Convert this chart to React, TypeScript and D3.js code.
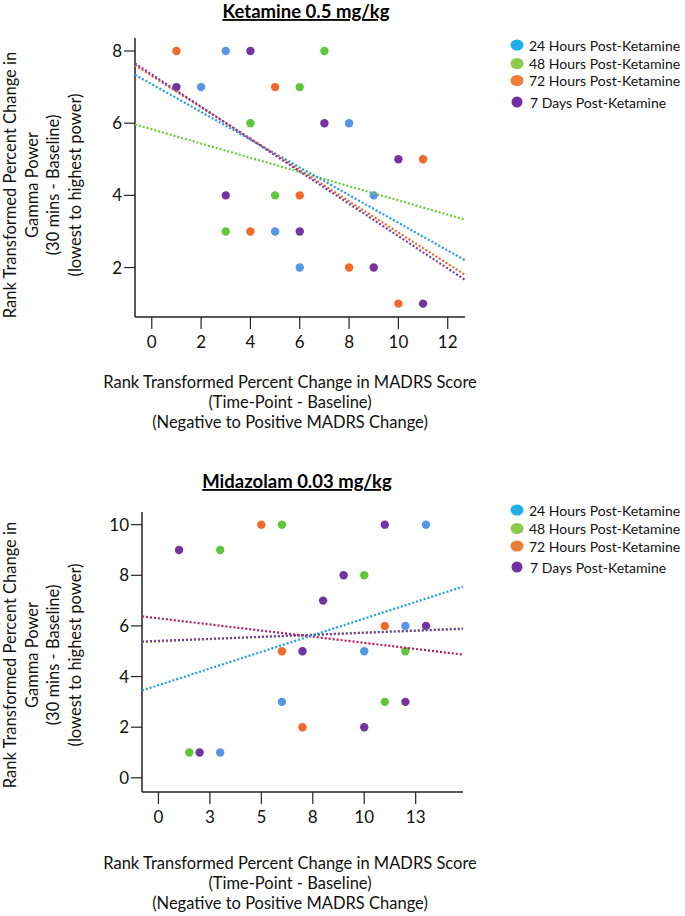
import React from "react";
import * as d3 from "d3";

const seriesNames = ["24 Hours Post-Ketamine", "48 Hours Post-Ketamine", "72 Hours Post-Ketamine", "7 Days Post-Ketamine"];
const dotColors = ["#5596E6", "#5FC73C", "#F26A2A", "#7433A0"];
const legendColors = ["#1FAEEA", "#8CCB4E", "#EE7D35", "#7030A0"];

// Ketamine panel points [x, y] per series
const ketX24 = [3, 2, 8, 9, 5, 6];
const ketY24 = [8, 7, 6, 4, 3, 2];
const ketX48 = [7, 6, 4, 5, 3];
const ketY48 = [8, 7, 6, 4, 3];
const ketX72 = [1, 5, 4, 6, 8, 10, 11];
const ketY72 = [8, 7, 3, 4, 2, 1, 5];
const ketX7d = [4, 1, 7, 10, 3, 6, 9, 11];
const ketY7d = [8, 7, 6, 5, 4, 3, 2, 1];
const ketTrendIntercept = [7.08, 5.83, 7.31, 7.35];
const ketTrendSlope = [-0.384, -0.197, -0.434, -0.448];
const ketTrendColors = ["#1E9CEB", "#6CC93A", "#F0642A", "#7A3BA6"];
const ketXTicks = [0, 2, 4, 6, 8, 10, 12];
const ketXTickLabels = ["0", "2", "4", "6", "8", "10", "12"];
const ketYTicks = [2, 4, 6, 8];

// Midazolam panel
const midX24 = [13, 12, 10, 6, 3];
const midY24 = [10, 6, 5, 3, 1];
const midX48 = [3, 6, 10, 12, 11, 1.5];
const midY48 = [9, 10, 8, 5, 3, 1];
const midX72 = [5, 11, 6, 7];
const midY72 = [10, 6, 5, 2];
const midX7d = [1, 11, 9, 8, 13, 7, 12, 10, 2];
const midY7d = [9, 10, 8, 7, 6, 5, 3, 2, 1];
const midTrendIntercept = [3.66, 5.39, 6.30, 5.41];
const midTrendSlope = [0.263, 0.0346, -0.0968, 0.032];
const midTrendColors = ["#1E9CEB", "#6CC93A", "#B21E5C", "#7A3BA6"];
const midXTicks = [0, 2.5, 5, 7.5, 10, 12.5];
const midXTickLabels = ["0", "3", "5", "8", "10", "13"];
const midYTicks = [0, 2, 4, 6, 8, 10];

const FONT = "Lato, 'Open Sans', sans-serif";

type PanelProps = {
  title: string;
  titleY: number;
  titleX: number;
  xs: number[][];
  ys: number[][];
  trendI: number[];
  trendS: number[];
  trendColors: string[];
  trendOrder: number[];
  xDomain: [number, number];
  yDomain: [number, number];
  left: number;
  right: number;
  top: number;
  bottom: number;
  xTicks: number[];
  xTickLabels: string[];
  yTicks: number[];
  yLabelCenter: number;
  xLabelY: number;
  legendY: number[];
};

const yLabelLines = [
  "Rank Transformed Percent Change in",
  "Gamma Power",
  "(30 mins - Baseline)",
  "(lowest to highest power)",
];
const xLabelLines = [
  "Rank Transformed Percent Change in MADRS Score",
  "(Time-Point - Baseline)",
  "(Negative to Positive MADRS Change)",
];

function Panel(p: PanelProps) {
  const x = d3.scaleLinear().domain(p.xDomain).range([p.left, p.right]);
  const y = d3.scaleLinear().domain(p.yDomain).range([p.bottom, p.top]);
  const lineX = [p.xDomain[0], p.xDomain[1]];
  return (
    <g>
      <text
        x={p.titleX}
        y={p.titleY}
        textAnchor="middle"
        fontFamily={FONT}
        fontWeight="bold"
        fontSize={18.5}
        textDecoration="underline"
        fill="#000"
      >
        {p.title}
      </text>
      <line x1={p.left} x2={p.left} y1={p.top} y2={p.bottom} stroke="#222" strokeWidth={1.5} />
      <line x1={p.left} x2={p.right} y1={p.bottom} y2={p.bottom} stroke="#222" strokeWidth={1.5} />
      {p.yTicks.map((t) => (
        <g key={"y" + t}>
          <line x1={p.left - 11} x2={p.left} y1={y(t)} y2={y(t)} stroke="#222" strokeWidth={1.2} />
          <text x={p.left - 13} y={y(t)} dy="0.35em" textAnchor="end" fontFamily={FONT} fontSize={17} fill="#111">
            {t}
          </text>
        </g>
      ))}
      {p.xTicks.map((t, i) => (
        <g key={"x" + t}>
          <line x1={x(t)} x2={x(t)} y1={p.bottom} y2={p.bottom + 12} stroke="#222" strokeWidth={1.2} />
          <text x={x(t)} y={p.bottom + 25} dy="0.35em" textAnchor="middle" fontFamily={FONT} fontSize={17} fill="#111">
            {p.xTickLabels[i]}
          </text>
        </g>
      ))}
      {p.xs.map((arr, s) =>
        arr.map((xv, i) => (
          <circle key={s + "-" + i} cx={x(xv)} cy={y(p.ys[s][i])} r={4.2} fill={dotColors[s]} />
        ))
      )}
      {p.trendOrder.map((s) => {
        const path = d3
          .line<number>()
          .x((v) => x(v))
          .y((v) => y(p.trendI[s] + p.trendS[s] * v))(lineX);
        return (
          <path
            key={"t" + s}
            d={path || ""}
            fill="none"
            stroke={p.trendColors[s]}
            strokeWidth={2.2}
            strokeDasharray="2,2"
          />
        );
      })}
      {yLabelLines.map((l, i) => (
        <text
          key={"yl" + i}
          transform={`translate(${10 + i * 21.5},${p.yLabelCenter}) rotate(-90)`}
          textAnchor="middle"
          dominantBaseline="central"
          fontFamily={FONT}
          fontSize={16.5}
          fill="#111"
        >
          {l}
        </text>
      ))}
      {xLabelLines.map((l, i) => (
        <text
          key={"xl" + i}
          x={290}
          y={p.xLabelY + i * 20}
          textAnchor="middle"
          dominantBaseline="central"
          fontFamily={FONT}
          fontSize={16.5}
          fill="#111"
        >
          {l}
        </text>
      ))}
      {seriesNames.map((n, i) => (
        <g key={"lg" + i}>
          <ellipse
            cx={517}
            cy={p.legendY[i]}
            rx={i === 3 ? 5.5 : 6.5}
            ry={5.5}
            fill={legendColors[i]}
          />
          <text
            x={i === 3 ? 530 : 529}
            y={p.legendY[i]}
            dominantBaseline="central"
            fontFamily={FONT}
            fontSize={14}
            fill="#111"
          >
            {n}
          </text>
        </g>
      ))}
    </g>
  );
}

export default function App() {
  return (
    <svg
      width={685}
      height={916}
      style={{ position: "absolute", left: 0, top: 0, background: "#fff" }}
    >
      <rect width={685} height={916} fill="#fff" />
      <Panel
        title="Ketamine 0.5 mg/kg"
        titleX={306}
        titleY={18}
        xs={[ketX24, ketX48, ketX72, ketX7d]}
        ys={[ketY24, ketY48, ketY72, ketY7d]}
        trendI={ketTrendIntercept}
        trendS={ketTrendSlope}
        trendColors={ketTrendColors}
        trendOrder={[1, 0, 2, 3]}
        xDomain={[-0.68, 12.7]}
        yDomain={[0.63, 8.36]}
        left={135}
        right={465}
        top={38}
        bottom={317}
        xTicks={ketXTicks}
        xTickLabels={ketXTickLabels}
        yTicks={ketYTicks}
        yLabelCenter={185}
        xLabelY={382}
        legendY={[45, 63.5, 80.5, 102]}
      />
      <Panel
        title="Midazolam 0.03 mg/kg"
        titleX={297}
        titleY={488}
        xs={[midX24, midX48, midX72, midX7d]}
        ys={[midY24, midY48, midY72, midY7d]}
        trendI={midTrendIntercept}
        trendS={midTrendSlope}
        trendColors={midTrendColors}
        trendOrder={[1, 3, 2, 0]}
        xDomain={[-0.8, 14.8]}
        yDomain={[-0.56, 10.5]}
        left={142}
        right={463}
        top={512}
        bottom={792}
        xTicks={midXTicks}
        xTickLabels={midXTickLabels}
        yTicks={midYTicks}
        yLabelCenter={655}
        xLabelY={863}
        legendY={[510, 528.5, 546, 567]}
      />
    </svg>
  );
}
